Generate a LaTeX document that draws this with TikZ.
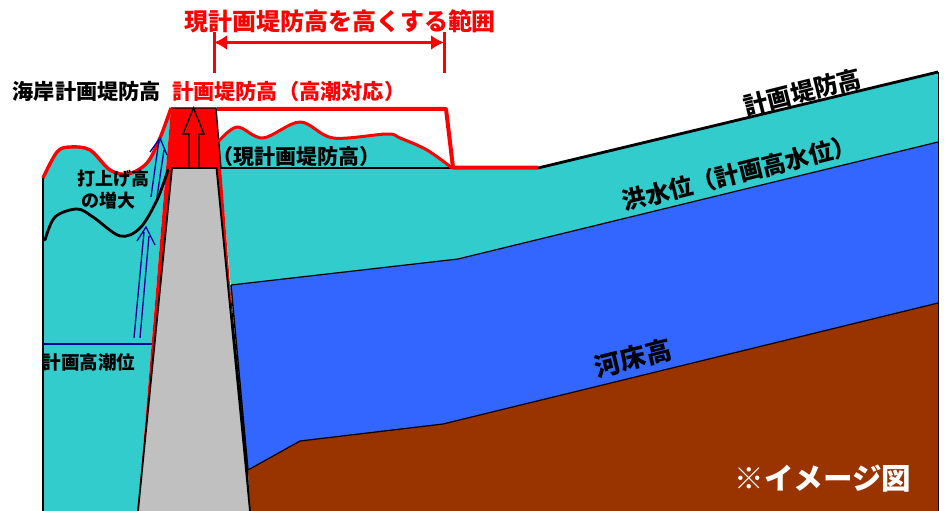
\documentclass[tikz,border=0pt]{standalone}
\usepackage{fontspec}
\setmainfont{Noto Sans CJK JP}
\usetikzlibrary{arrows.meta}
\definecolor{tealw}{HTML}{33CCCC}
\definecolor{bluew}{HTML}{3366FF}
\definecolor{brownb}{HTML}{993300}
\definecolor{grayd}{HTML}{C0C0C0}
\definecolor{navyl}{HTML}{000099}
\newcommand{\jpsize}[1]{\fontsize{#1}{#1}\selectfont\bfseries}
\tikzset{
  lbl/.style={inner sep=0pt,outer sep=0pt,text=black},
  redlbl/.style={lbl,text=red},
  redline/.style={draw=red,line width=3.4pt,line join=round},
  blackline/.style={draw=black,line width=2.8pt},
  navyline/.style={draw=navyl,line width=1.3pt},
  thinline/.style={draw=black,line width=1.2pt}
}
\begin{document}
\begin{tikzpicture}[x=1pt,y=-1pt]
\useasboundingbox (0,0) rectangle (946,511);
% left sea
\fill[tealw] plot[smooth,tension=0.55] coordinates {(43,178)(57,152)(70,147)(90,150)(110,170)(128,174)(147,163)(160,138)(171,108)} -- (138,511) -- (43,511) -- cycle;
% right water
\fill[tealw] plot[smooth,tension=0.55] coordinates {(218,142)(237,127)(263,138)(300,122)(333,138)(387,134)(400,138)(427,150)(452,168)} -- (538,168) -- (938,72) -- (938,145) -- (458,262) -- (231,288) -- cycle;
\fill[bluew] (231,285) -- (458,259) -- (938,142) -- (938,305) -- (443,424) -- (300,441) -- (248,470) -- cycle;
\fill[brownb] (248,470) -- (300,441) -- (443,424) -- (938,303) -- (938,511) -- (250,511) -- cycle;
\draw[thinline] (231,285) -- (458,259) -- (938,142);
\draw[thinline] (248,470) -- (300,441) -- (443,424) -- (938,303);
\draw[draw=black,line width=1pt] (938,72) -- (938,511);
% sea edge and high-tide line
\draw[blackline] (43,178) -- (43,511);
\draw[navyline,line width=1.6pt] (43,344) -- (152,344);
% embankment raising (red)
\fill[black] (230,285) -- (248,470) -- (250,511) -- (236,400) -- cycle;
\fill[red] (171,108) -- (216,108) -- (221,168) -- (230,285) -- (237,400) -- (216.5,168) -- (172,168) -- (138,511) -- cycle;
\fill[grayd] (172,168) -- (216.5,168) -- (250,511) -- (138,511) -- cycle;
\draw[thinline,line width=1.8pt] (138,511) -- (172,168) -- (216.5,168) -- (250,511);
\draw[thinline,line width=1.4pt] (171,108) -- (216,108) -- (221,168);
\draw[thinline,line width=1.4pt] (231,285) -- (248,470);
\draw[blackline] (220,168) -- (453,168);
\draw[blackline] (538,168) -- (938,72);
% arrow inside cap
\draw[draw=black,fill=red,line width=1.4pt,line join=miter] (193.5,108) -- (204,134) -- (199,134) -- (199,168) -- (189,168) -- (189,134) -- (183,134) -- cycle;
% waves
\draw[redline] plot[smooth,tension=0.55] coordinates {(43,178)(57,152)(70,147)(90,150)(110,170)(128,174)(147,163)(160,138)(171,108)};
\draw[redline,line width=3pt] plot[smooth,tension=0.55] coordinates {(218,142)(237,127)(263,138)(300,122)(333,138)(387,134)(400,138)(427,150)(452,168)};
\draw[redline,line width=4pt] (217,109) -- (446,109) -- (453,167.5) -- (538,167.5);
\draw[draw=black,line width=2.8pt,line cap=round] plot[smooth,tension=0.55] coordinates {(45,240)(55,217)(77,209)(93,217)(120,236)(140,228)(157,200)(168,170)};
% run-up arrows
\draw[navyline] (151,197) -- (159,140) (157,197) -- (164,150) (150,152) -- (160,138) -- (167,155);
\draw[navyline] (134,338) -- (144,232) (140,338) -- (149,236) (137,241) -- (146,227) -- (155,245);
% dimension
\coordinate (dimL) at (214,42.5);
\coordinate (dimR) at (444,42.5);
\draw[draw=red,line width=3pt] (214,32) -- (214,73) (444,32) -- (444,73);
\draw[draw=red,line width=2.6pt,{Latex[length=13pt,width=15pt]}-{Latex[length=13pt,width=15pt]}] (dimL) -- (dimR);
% labels
\node[redlbl] (title) at (340,21) {\jpsize{24}現計画堤防高を高くする範囲};
\node[lbl] (coast) at (87,91) {\jpsize{21.2}海岸計画堤防高};
\node[redlbl,anchor=west] (plan) at (172,91) {\jpsize{21.2}計画堤防高（高潮対応）};
\node[lbl,anchor=west] (cur) at (212.5,157) {\jpsize{21}（現計画堤防高）};
\node[lbl] (up1) at (113,179) {\jpsize{18}打上げ高};
\node[lbl] (up2) at (108,201) {\jpsize{18}の増大};
\node[lbl] (tide) at (89,362) {\jpsize{18.6}計画高潮位};
\node[lbl,rotate=14] (levee) at (802.5,92) {\jpsize{24}計画堤防高};
\node[lbl,rotate=14] (flood) at (739,173) {\jpsize{24}洪水位（計画高水位）};
\node[lbl,rotate=14] (bed) at (633,358) {\jpsize{26}河床高};
\node[lbl,text=white] (img) at (823,479) {\jpsize{29.5}※イメージ図};
\end{tikzpicture}
\end{document}
